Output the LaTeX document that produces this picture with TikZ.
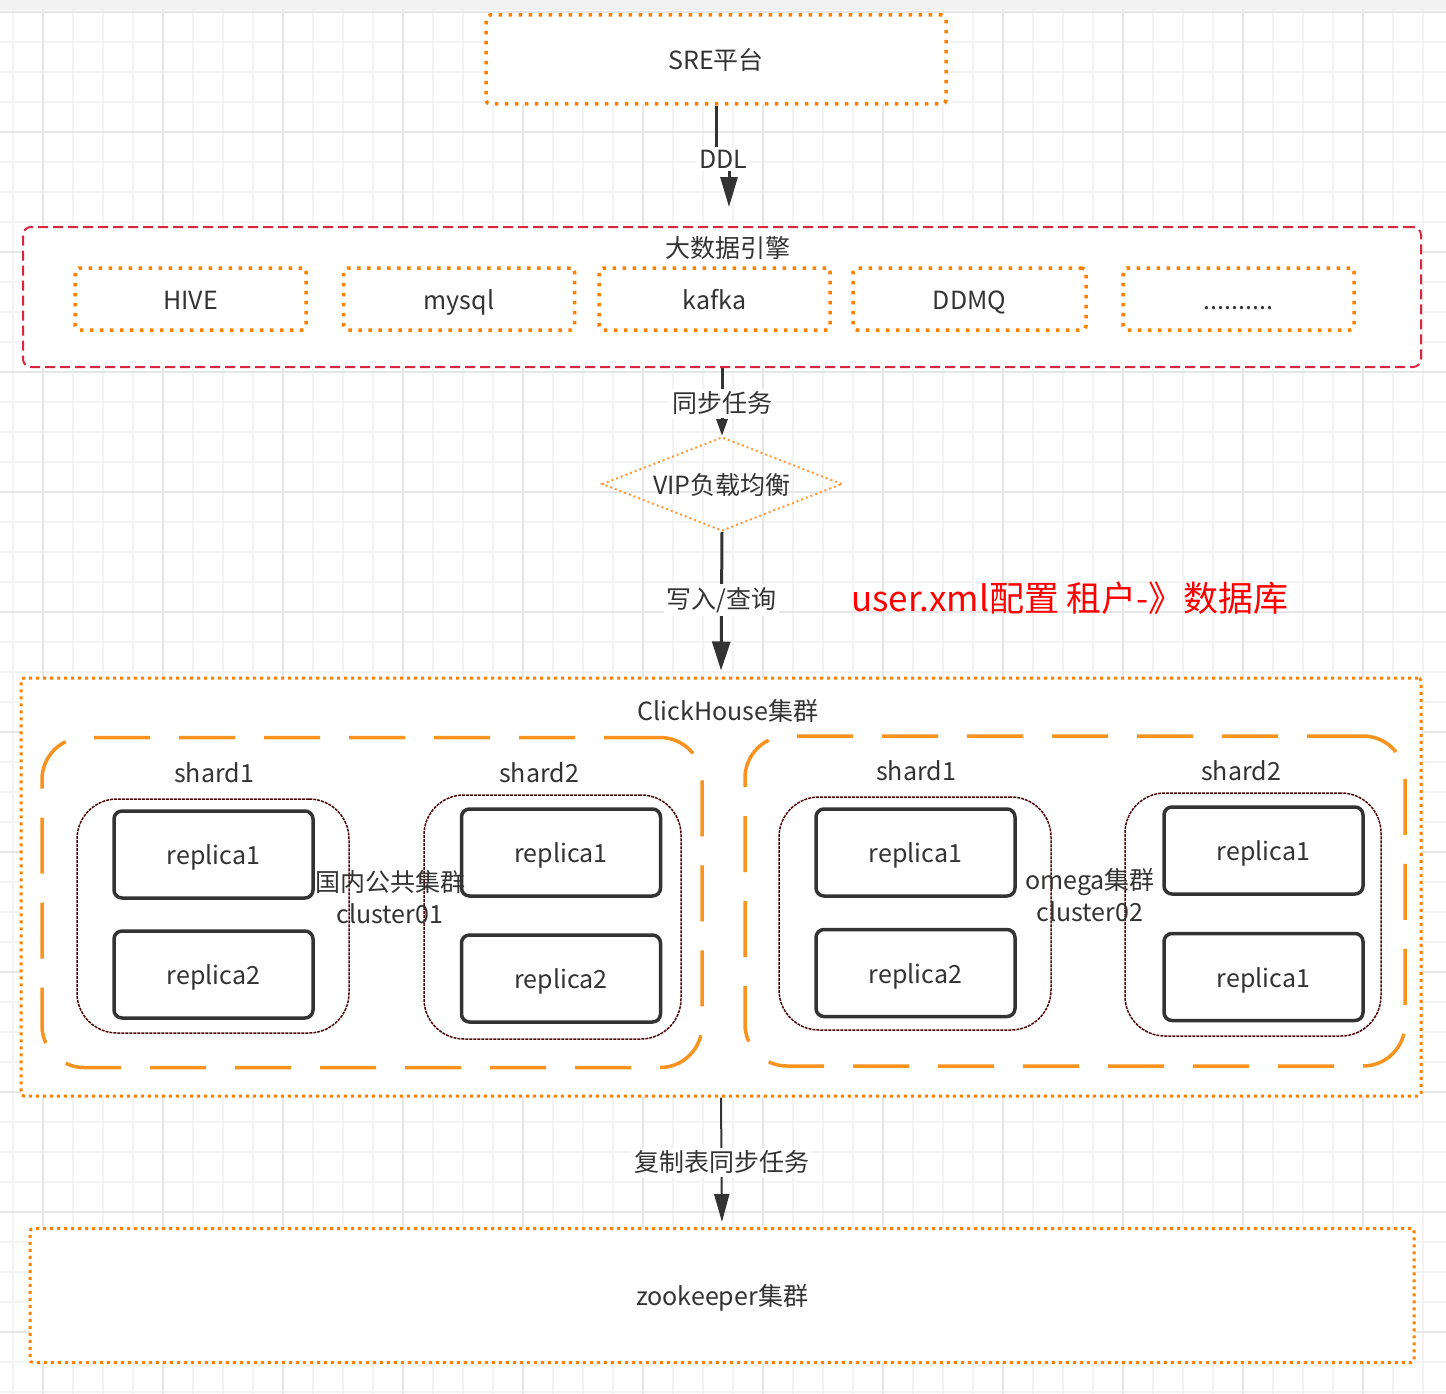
\documentclass[tikz,border=0pt]{standalone}
\usepackage{fontspec}
\setmainfont{Noto Sans CJK SC}
\usetikzlibrary{arrows.meta,shapes.geometric}

\definecolor{boxorange}{HTML}{FF8000}
\definecolor{dashorange}{HTML}{F7931E}
\definecolor{diamondorange}{HTML}{FF9A3C}
\definecolor{enginered}{HTML}{D7263D}
\definecolor{sharddark}{HTML}{4A0808}
\definecolor{inkgray}{HTML}{333333}
\definecolor{gridminor}{HTML}{F3F3F3}
\definecolor{gridmajor}{HTML}{E6E6E6}
\definecolor{topband}{HTML}{F1F1F1}

\tikzset{
  lbl/.style={text=inkgray, font=\fontsize{25}{32}\selectfont, inner sep=2pt},
  boxtext/.style={lbl, text height=23pt, text depth=3pt},
  dotbox/.style={boxtext, draw=boxorange, line width=3.5pt, dash pattern=on 3.5pt off 6.5pt,
    fill=white, rounded corners=4pt},
  finedotbox/.style={boxtext, draw=boxorange, line width=3pt, dash pattern=on 3pt off 4pt,
    fill=white, rounded corners=3pt},
  enginebox/.style={draw=enginered, line width=2pt, dash pattern=on 10pt off 5pt,
    fill=white, rounded corners=8pt},
  clusterbox/.style={draw=dashorange, line width=3.5pt, dash pattern=on 56pt off 29pt,
    rounded corners=42pt},
  shardbox/.style={draw=sharddark, line width=1.5pt, dash pattern=on 3pt off 1pt,
    fill=white, rounded corners=40pt},
  replicabox/.style={boxtext, draw=inkgray, line width=3.5pt, fill=white, rounded corners=8pt,
    minimum width=199pt, minimum height=87pt},
  vipbox/.style={boxtext, diamond, aspect=2.55, draw=diamondorange, line width=2pt,
    dash pattern=on 2pt off 3pt, minimum width=240pt, minimum height=94pt, inner sep=0pt},
  edgelbl/.style={lbl, fill=white, inner sep=3pt},
  flow/.style={draw=inkgray, line width=3pt},
}

\begin{document}
\begin{tikzpicture}[x=1pt, y=-1pt]
  \useasboundingbox (0,0) rectangle (1446,1394);

  % canvas grid
  \fill[white] (0,0) rectangle (1446,1394);
  \foreach \gx in {13,43,...,1443}
    \draw[gridminor, line width=1.5pt] (\gx,0) -- (\gx,1394);
  \foreach \gy in {12,42,...,1392}
    \draw[gridminor, line width=1.5pt] (0,\gy) -- (1446,\gy);
  \foreach \gx in {43,163,...,1403}
    \draw[gridmajor, line width=1.5pt] (\gx,0) -- (\gx,1394);
  \foreach \gy in {12,132,...,1332}
    \draw[gridmajor, line width=1.5pt] (0,\gy) -- (1446,\gy);
  \fill[topband] (0,0) rectangle (1446,10);

  % SRE platform
  \node[dotbox, minimum width=460pt, minimum height=89pt] (sre) at (716,59.5) {SRE平台};

  % big data engines
  \node[enginebox, minimum width=1398pt, minimum height=140pt] (engine) at (722,297) {};
  \node[lbl] (enginetitle) at (728,248) {大数据引擎};
  \node[dotbox, minimum width=231pt, minimum height=62pt] (hive) at (190.5,299) {HIVE};
  \node[dotbox, minimum width=231pt, minimum height=62pt] (mysql) at (459,299) {mysql};
  \node[dotbox, minimum width=231pt, minimum height=62pt] (kafka) at (714.5,299) {kafka};
  \node[dotbox, minimum width=233pt, minimum height=62pt] (ddmq) at (969.5,299) {DDMQ};
  \node[dotbox, minimum width=231pt, minimum height=62pt] (more) at (1238.5,299) {..........};

  % DDL arrow
  \coordinate (ddlend) at (729,207);
  \draw[flow, -{Triangle[length=30pt, width=17pt]}] (sre.south) -- (716,152) -| (ddlend);
  \node[edgelbl] (ddl) at (723,159) {DDL};

  % load balancer
  \node[vipbox] (vip) at (722,484) {VIP负载均衡};
  \draw[flow, -{Triangle[length=17pt, width=11pt]}] (engine.south) -- (vip.north)
    node[edgelbl, pos=0.52] (synctask) {同步任务};

  % ClickHouse cluster
  \node[finedotbox, minimum width=1400pt, minimum height=418pt] (ch) at (721,887) {};
  \node[lbl] (chtitle) at (728,711) {ClickHouse集群};
  \draw[flow, shorten >=6pt, -{Triangle[length=29pt, width=18pt]}] (vip.south) -- (ch.north)
    node[edgelbl, pos=0.47] (rw) {写入/查询};
  \node[lbl, text=red, font=\fontsize{35}{40}\selectfont] (tenant) at (1070,598)
    {user.xml配置 租户-》数据库};

  % cluster01
  \node[clusterbox, minimum width=660pt, minimum height=330pt] (cl1) at (372,902.5) {};
  \node[lbl] (cl1s1lbl) at (214,773) {shard1};
  \node[lbl] (cl1s2lbl) at (539,773) {shard2};
  \node[shardbox, minimum width=272pt, minimum height=234pt] (cl1s1) at (213,916) {};
  \node[shardbox, minimum width=257pt, minimum height=244pt] (cl1s2) at (552.5,917) {};
  \node[replicabox] (cl1s1r1) at (213.5,854.5) {replica1};
  \node[replicabox] (cl1s1r2) at (213.5,974.5) {replica2};
  \node[replicabox] (cl1s2r1) at (561,852.5) {replica1};
  \node[replicabox] (cl1s2r2) at (561,978.5) {replica2};
  \node[lbl, align=center] (cl1name) at (390,897) {国内公共集群\\cluster01};

  % cluster02
  \node[clusterbox, minimum width=660pt, minimum height=330pt] (cl2) at (1075,901) {};
  \node[lbl] (cl2s1lbl) at (916,771) {shard1};
  \node[lbl] (cl2s2lbl) at (1241,771) {shard2};
  \node[shardbox, minimum width=272pt, minimum height=233pt] (cl2s1) at (915,913.5) {};
  \node[shardbox, minimum width=256pt, minimum height=243pt] (cl2s2) at (1253,914.5) {};
  \node[replicabox] (cl2s1r1) at (915.5,852.5) {replica1};
  \node[replicabox] (cl2s1r2) at (915.5,973) {replica2};
  \node[replicabox] (cl2s2r1) at (1263.5,850.5) {replica1};
  \node[replicabox] (cl2s2r2) at (1263.5,977) {replica1};
  \node[lbl, align=center] (cl2name) at (1090,895) {omega集群\\cluster02};

  % zookeeper
  \node[finedotbox, minimum width=1384pt, minimum height=134pt] (zk) at (722,1295.5) {zookeeper集群};
  \draw[flow, line width=2pt, shorten >=5pt, -{Triangle[length=28pt, width=15pt]}] (ch.south) -- (zk.north)
    node[edgelbl, midway] (repltask) {复制表同步任务};
\end{tikzpicture}
\end{document}
